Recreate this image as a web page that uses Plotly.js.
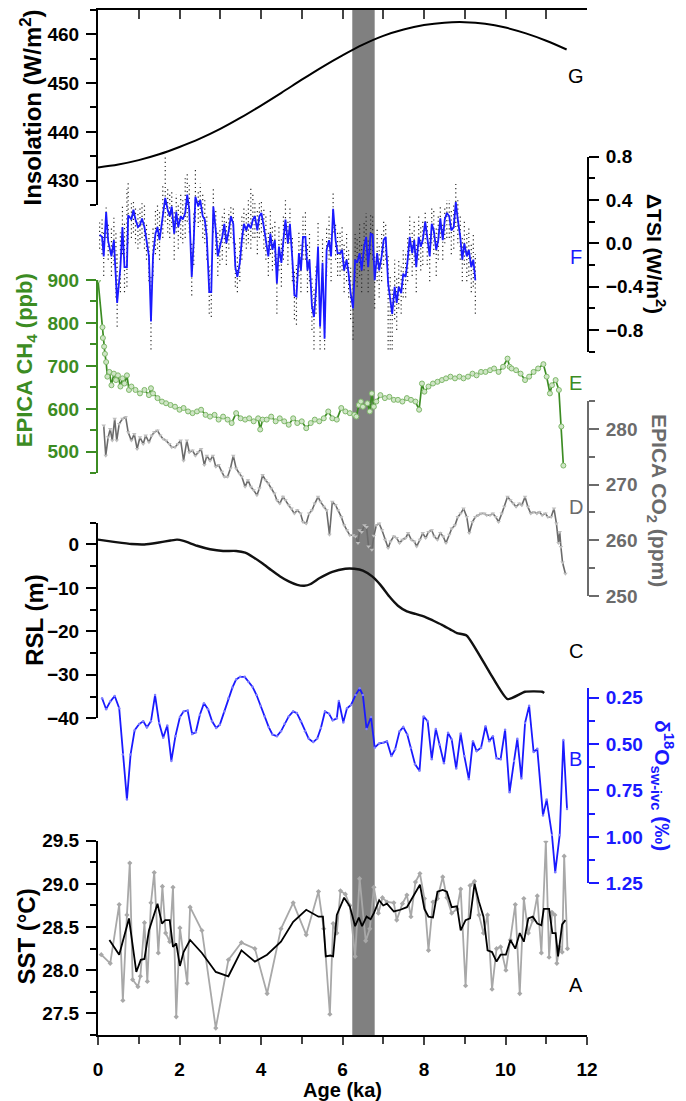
<!DOCTYPE html>
<html><head><meta charset="utf-8">
<script src="https://cdn.plot.ly/plotly-3.0.1.min.js"></script>
<style>html,body{margin:0;padding:0;background:#fff}#chart{width:686px;height:1101px}</style>
</head><body><div id="chart"></div>
<script>
// ---------- G: insolation ----------
const INS_age = [0,0.5,1,1.5,2,2.5,3,3.5,4,4.5,5,5.5,6,6.5,7,7.5,8,8.5,9,9.5,10,10.5,11,11.5];
const INS_val = [432.7,433.3,434.2,435.4,436.9,438.6,440.6,442.9,445.4,448.0,450.7,453.3,455.7,457.9,459.7,461.0,461.9,462.4,462.5,462.2,461.4,460.2,458.7,456.9];

// ---------- F: delta TSI ----------
const TSI_age = [0.04,0.10,0.14,0.20,0.25,0.33,0.39,0.44,0.47,0.55,
0.60,0.65,0.71,0.74,0.82,0.87,0.92,0.98,1.03,1.08,
1.14,1.19,1.25,1.30,1.35,1.41,1.46,1.51,1.59,1.65,
1.71,1.76,1.81,1.87,1.92,1.97,2.03,2.08,2.14,2.19,
2.24,2.30,2.35,2.39,2.46,2.51,2.57,2.62,2.67,2.73,
2.78,2.83,2.89,2.94,2.99,3.05,3.10,3.15,3.21,3.26,
3.32,3.37,3.42,3.48,3.53,3.58,3.64,3.69,3.75,3.80,
3.85,3.91,3.96,4.01,4.07,4.12,4.18,4.23,4.28,4.34,
4.39,4.44,4.50,4.55,4.60,4.66,4.71,4.77,4.82,4.87,
4.93,4.98,5.03,5.09,5.14,5.19,5.25,5.30,5.35,5.40,
5.45,5.51,5.56,5.61,5.67,5.72,5.77,5.83,5.88,5.94,
5.99,6.04,6.10,6.15,6.20,6.26,6.31,6.36,6.42,6.47,
6.53,6.58,6.63,6.69,6.74,6.79,6.85,6.90,6.96,7.01,
7.06,7.12,7.17,7.22,7.28,7.33,7.38,7.44,7.49,7.55,
7.60,7.65,7.71,7.76,7.81,7.87,7.92,7.97,8.03,8.08,
8.14,8.19,8.24,8.30,8.35,8.40,8.46,8.51,8.56,8.62,
8.67,8.73,8.78,8.83,8.89,8.94,8.99,9.05,9.10,9.16,
9.21,9.26];
const TSI_val = [0.08,0.06,-0.12,0.29,0.02,-0.12,0.03,-0.34,-0.55,-0.22,
0.15,-0.22,-0.22,0.26,0.22,0.31,0.22,0.15,0.17,0.23,
0.15,0.03,-0.12,-0.72,-0.12,0.09,0.15,0.03,0.25,0.42,
0.31,0.25,0.34,0.09,0.29,0.15,0.25,0.22,0.28,0.45,
0.31,-0.31,0.03,0.43,0.34,0.40,0.25,0.22,0.06,-0.45,
-0.45,0.34,0.12,-0.12,-0.03,0.06,0.18,0.0,0.12,0.25,
0.18,-0.22,-0.31,-0.18,0.03,0.18,0.12,0.18,0.14,0.22,
0.25,0.12,0.25,0.28,0.15,0.03,-0.12,0.09,-0.06,0.03,
-0.37,-0.03,-0.18,0.03,0.22,0.0,0.18,-0.15,-0.48,-0.49,
-0.09,-0.25,0.06,0.06,-0.25,-0.15,-0.58,-0.68,-0.43,-0.03,
-0.77,-0.18,-0.88,-0.06,0.03,-0.12,0.32,0.03,-0.09,-0.09,
-0.06,-0.25,-0.15,-0.28,-0.46,-0.60,-0.15,-0.18,-0.09,-0.25,
-0.03,0.06,-0.22,0.09,0.08,-0.34,-0.09,-0.25,-0.12,0.03,
0.06,-0.37,-0.52,-0.65,-0.40,-0.55,-0.40,-0.46,-0.28,-0.31,
-0.15,0.06,-0.09,0.03,-0.22,0.06,-0.03,0.03,0.20,0.03,
-0.12,0.18,0.12,-0.06,0.03,0.23,0.03,0.22,0.28,0.25,
0.12,0.15,0.38,0.22,0.06,-0.15,0.0,-0.12,-0.06,-0.22,
-0.15,-0.34];
const TSI_hi = [0.2,0.22,0.1,0.33,0.2,0.15,0.25,0.1,-0.1,0.1,
0.35,0.2,0.5,0.57,0.38,0.4,0.35,0.3,0.35,0.38,
0.35,0.2,0.1,-0.3,0.15,0.3,0.35,0.3,0.55,0.8,
0.5,0.45,0.5,0.3,0.45,0.35,0.45,0.4,0.6,0.65,
0.55,0.0,0.3,0.68,0.5,0.55,0.45,0.4,0.25,-0.2,
-0.2,0.5,0.3,0.1,0.15,0.25,0.32,0.2,0.3,0.34,
0.33,0.0,-0.1,0.05,0.25,0.35,0.3,0.4,0.52,0.45,
0.38,0.3,0.38,0.4,0.33,0.25,0.1,0.3,0.15,0.2,
-0.1,0.15,0.05,0.25,0.4,0.2,0.35,0.05,-0.25,-0.2,
0.1,0.0,0.25,0.3,0.0,0.1,-0.3,-0.4,-0.2,0.2,
-0.5,0.05,-0.55,0.15,0.25,0.1,0.46,0.2,0.1,0.1,
0.15,0.0,0.1,-0.05,-0.2,-0.35,0.1,0.05,0.2,0.0,
0.2,0.28,0.05,0.28,0.25,-0.1,0.15,0.0,0.1,0.2,
0.2,-0.1,-0.3,-0.4,-0.15,-0.3,-0.15,-0.2,-0.05,-0.1,
0.05,0.25,0.1,0.2,0.0,0.25,0.15,0.2,0.31,0.2,
0.1,0.35,0.3,0.15,0.25,0.35,0.2,0.35,0.4,0.4,
0.3,0.35,0.57,0.4,0.25,0.05,0.2,0.1,0.15,0.0,
0.1,-0.1];
const TSI_lo = [-0.05,-0.1,-0.3,0.05,-0.15,-0.3,-0.2,-0.5,-0.77,-0.45,
-0.1,-0.45,-0.4,0.0,0.05,0.1,0.0,-0.05,0.0,0.05,
-0.05,-0.15,-0.35,-0.98,-0.3,-0.1,-0.05,-0.15,0.05,0.2,
0.1,0.05,0.15,-0.15,0.1,-0.05,0.05,0.0,0.05,0.2,
0.1,-0.48,-0.2,0.2,0.15,0.2,0.05,0.0,-0.15,-0.65,
-0.68,0.1,-0.1,-0.3,-0.2,-0.15,0.0,-0.2,-0.05,0.05,
0.0,-0.4,-0.45,-0.35,-0.15,0.0,-0.05,0.0,-0.05,0.05,
0.05,-0.1,0.05,0.1,-0.05,-0.15,-0.3,-0.1,-0.25,-0.2,
-0.65,-0.25,-0.4,-0.15,0.0,-0.2,0.0,-0.35,-0.7,-0.75,
-0.3,-0.45,-0.15,-0.15,-0.45,-0.35,-0.8,-0.98,-0.65,-0.25,
-0.98,-0.4,-0.98,-0.3,-0.15,-0.35,0.1,-0.15,-0.3,-0.3,
-0.25,-0.45,-0.35,-0.5,-0.7,-0.89,-0.35,-0.4,-0.3,-0.45,
-0.25,-0.15,-0.45,-0.1,-0.15,-0.6,-0.35,-0.5,-0.35,-0.2,
-0.15,-0.98,-0.98,-0.98,-0.7,-0.8,-0.6,-0.65,-0.5,-0.5,
-0.35,-0.15,-0.3,-0.2,-0.45,-0.15,-0.25,-0.2,0.0,-0.2,
-0.35,0.0,-0.1,-0.3,-0.15,0.05,-0.15,0.0,0.05,0.05,
-0.1,-0.05,0.15,0.0,-0.15,-0.35,-0.2,-0.35,-0.3,-0.45,
-0.4,-0.65];

// ---------- E: EPICA CH4 ----------
const CH4_age = [0.00,0.11,0.12,0.15,0.17,0.20,0.23,0.28,0.33,0.39,0.44,0.49,0.55,0.60,0.65,0.71,0.76,0.82,0.92,1.03,
1.14,1.25,1.30,1.35,1.46,1.57,1.67,1.78,1.89,2.00,2.10,2.21,2.32,2.43,2.53,2.64,2.75,2.86,2.96,3.07,
3.18,3.28,3.39,3.50,3.61,3.71,3.82,3.93,3.98,4.04,4.14,4.25,4.36,4.46,4.57,4.68,4.79,4.89,5.00,5.11,
5.22,5.32,5.43,5.54,5.65,5.75,5.86,5.97,6.07,6.18,6.29,6.34,6.40,6.45,6.50,6.61,6.67,6.72,6.77,6.83,
6.93,7.04,7.15,7.26,7.36,7.47,7.58,7.68,7.79,7.88,7.95,8.01,8.11,8.22,8.33,8.44,8.54,8.65,8.76,8.87,
8.97,9.08,9.19,9.29,9.40,9.51,9.62,9.72,9.83,9.94,10.05,10.10,10.15,10.26,10.37,10.48,10.58,10.69,10.80,10.93,
11.01,11.09,11.14,11.23,11.31,11.37,11.42];
const CH4_val = [900,790,765,745,728,709,675,686,655,682,667,678,652,671,659,678,644,652,644,636,
644,632,648,636,625,617,613,609,605,598,602,594,590,594,598,586,582,586,575,582,
575,567,590,578,575,578,571,578,552,575,575,582,571,578,571,563,578,567,571,555,
567,575,571,578,594,578,575,602,594,590,586,582,609,617,605,613,594,636,605,617,
632,625,628,621,621,617,625,621,617,598,659,640,652,659,663,667,671,675,671,675,
671,675,682,678,686,686,690,694,686,698,717,698,694,690,682,667,675,686,694,704,
675,636,655,667,644,559,468];

// ---------- D: EPICA CO2 ----------
const CO2_age = [0.14,0.19,0.25,0.30,0.35,0.41,0.46,0.52,0.60,0.68,0.74,0.82,0.89,0.96,1.03,1.11,1.17,1.25,1.32,1.38,
1.46,1.53,1.60,1.67,1.75,1.81,1.89,1.96,2.03,2.10,2.18,2.24,2.32,2.39,2.46,2.53,2.61,2.67,2.75,2.82,
2.89,2.96,3.04,3.10,3.18,3.25,3.32,3.39,3.47,3.53,3.61,3.68,3.75,3.82,3.90,3.96,4.04,4.11,4.18,4.25,
4.33,4.39,4.46,4.54,4.60,4.68,4.75,4.82,4.89,4.97,5.03,5.11,5.18,5.25,5.32,5.40,5.46,5.54,5.61,5.68,
5.75,5.83,5.89,5.97,6.04,6.11,6.18,6.26,6.32,6.38,6.42,6.47,6.54,6.59,6.64,6.72,6.77,6.83,6.90,6.97,
7.04,7.12,7.18,7.26,7.33,7.40,7.47,7.55,7.61,7.69,7.76,7.82,7.90,7.97,8.04,8.11,8.19,8.25,8.33,8.40,
8.47,8.54,8.62,8.68,8.76,8.83,8.90,8.97,9.05,9.11,9.19,9.26,9.33,9.40,9.48,9.54,9.62,9.69,9.76,9.83,
9.91,9.97,10.05,10.12,10.19,10.26,10.34,10.40,10.48,10.55,10.62,10.69,10.77,10.83,10.90,10.98,11.04,11.12,11.19,11.25,
11.30,11.33,11.36,11.40,11.47];
const CO2_val = [280.6,275.2,278.5,280.0,277.9,281.8,277.9,280.9,281.8,282.1,279.4,277.9,279.1,276.4,278.5,277.3,278.8,277.6,278.8,279.4,
279.7,278.8,278.2,277.9,277.3,276.7,276.7,277.3,277.9,274.3,277.9,275.8,276.1,275.2,275.8,276.4,273.5,275.2,274.3,275.2,
273.2,273.5,272.3,271.4,271.4,272.9,275.2,272.9,272.0,271.4,269.6,270.8,269.6,269.0,268.1,269.3,271.7,270.8,270.2,269.3,
268.4,267.2,266.6,267.8,267.2,266.3,265.7,264.8,265.4,264.8,263.3,263.0,264.8,265.4,266.6,267.8,266.9,266.0,265.4,261.0,
266.9,266.3,265.4,264.2,262.7,261.8,260.9,260.9,260.7,259.5,261.8,261.5,262.7,262.4,258.9,258.3,260.8,262.7,263.0,261.8,
260.1,258.6,259.8,260.7,260.4,259.5,260.1,260.4,261.3,260.1,259.8,258.9,260.1,261.3,260.4,261.5,261.8,260.7,260.1,261.3,
260.7,259.5,261.0,262.1,262.7,264.2,264.8,265.7,264.2,261.3,263.3,264.2,264.5,264.8,264.8,264.5,264.5,264.8,264.2,263.3,
264.8,266.0,267.8,267.2,266.6,266.0,266.6,266.3,267.8,266.0,264.8,265.1,264.8,265.1,264.5,264.8,264.2,264.2,265.7,263.0,
259.5,261.5,258.8,256.0,254.0];

// ---------- C: RSL ----------
const RSL_age = [0,0.39,0.82,1.14,1.46,1.78,1.94,2.10,2.43,2.75,3.07,3.39,3.61,3.82,4.04,4.25,4.46,4.68,4.89,5.06,
5.22,5.43,5.75,6.07,6.29,6.50,6.72,6.93,7.15,7.36,7.58,7.79,8.01,8.22,8.44,8.65,8.81,9.05,9.62,10.05,
10.48,10.90,10.95];
const RSL_val = [1.1,0.6,0.1,0.0,0.4,0.9,1.1,0.8,-0.3,-1.1,-1.5,-1.5,-1.9,-3.0,-4.4,-5.9,-7.3,-8.5,-9.3,-9.5,
-9.1,-7.8,-6.3,-5.6,-5.6,-6.0,-7.3,-9.3,-12.0,-14.1,-15.4,-16.0,-16.6,-17.5,-18.5,-19.6,-20.4,-21.0,-29.6,-35.6,
-33.9,-33.9,-34.2];

// ---------- B: d18O sw-ivc ----------
const D18_age = [0.10,0.20,0.30,0.41,0.52,0.61,0.71,0.80,0.90,1.01,1.11,1.20,1.30,1.40,1.50,1.60,1.70,1.80,1.90,2.01,
2.10,2.20,2.31,2.40,2.50,2.60,2.70,2.80,2.90,2.99,3.10,3.20,3.30,3.39,3.49,3.60,3.69,3.79,3.89,3.99,
4.09,4.19,4.28,4.39,4.49,4.58,4.68,4.79,4.88,4.98,5.08,5.17,5.28,5.38,5.47,5.57,5.67,5.76,5.86,5.91,
6.02,6.11,6.21,6.32,6.42,6.50,6.59,6.70,6.79,6.90,7.00,7.09,7.20,7.29,7.40,7.49,7.59,7.68,7.78,7.89,
7.99,8.09,8.19,8.29,8.38,8.49,8.59,8.68,8.79,8.90,8.99,9.10,9.20,9.29,9.40,9.51,9.60,9.69,9.78,9.88,
9.99,10.10,10.21,10.29,10.39,10.48,10.58,10.69,10.78,10.92,11.01,11.14,11.22,11.33,11.42,11.51];
const D18_val = [0.255,0.314,0.273,0.243,0.309,0.557,0.80,0.557,0.427,0.394,0.379,0.411,0.379,0.238,0.388,0.468,0.402,0.592,0.459,0.356,
0.326,0.321,0.447,0.438,0.344,0.282,0.314,0.379,0.415,0.397,0.326,0.255,0.197,0.154,0.140,0.140,0.167,0.193,0.238,0.296,
0.353,0.410,0.450,0.459,0.433,0.392,0.353,0.326,0.335,0.379,0.433,0.472,0.491,0.472,0.415,0.326,0.339,0.374,0.363,0.270,
0.385,0.309,0.291,0.238,0.202,0.238,0.420,0.356,0.521,0.498,0.495,0.486,0.566,0.530,0.433,0.410,0.450,0.521,0.610,0.645,
0.353,0.379,0.583,0.420,0.504,0.605,0.441,0.477,0.633,0.445,0.566,0.690,0.486,0.539,0.521,0.406,0.486,0.459,0.578,0.583,
0.424,0.761,0.592,0.473,0.686,0.388,0.296,0.544,0.527,0.885,0.800,0.990,1.190,0.990,0.480,0.850];

// ---------- A: SST ----------
const SST_age = [0.08,0.30,0.52,0.61,0.71,0.78,0.85,0.98,1.04,1.14,1.21,1.30,1.38,1.48,1.58,1.66,1.76,1.84,1.92,2.01,
2.19,2.26,2.55,2.89,3.20,3.52,3.85,4.15,4.49,4.79,5.11,5.41,5.54,5.69,5.77,5.86,5.95,6.07,6.18,6.31,
6.42,6.57,6.67,6.77,6.88,6.98,7.09,7.26,7.33,7.47,7.58,7.68,7.79,7.90,8.01,8.11,8.22,8.33,8.46,8.56,
8.68,8.81,8.90,9.02,9.13,9.24,9.35,9.46,9.56,9.67,9.78,9.88,10.01,10.12,10.24,10.35,10.45,10.56,10.67,10.78,
10.88,10.99,11.07,11.14,11.21,11.26,11.32,11.39,11.44,11.52];
const SST_val = [28.18,28.08,28.76,27.65,28.64,29.24,27.89,27.81,27.93,28.55,27.87,28.78,29.13,28.20,28.97,28.43,28.33,28.96,27.46,28.49,
27.85,28.73,28.46,27.33,28.12,28.32,28.25,27.73,28.48,28.78,28.41,28.91,28.48,27.49,28.54,28.43,28.92,28.88,28.75,28.16,
29.06,28.34,28.48,28.96,28.66,28.84,28.79,28.78,28.58,28.77,28.87,28.62,29.02,29.12,28.83,28.23,28.79,28.83,29.08,28.84,
28.66,28.71,28.94,27.82,28.98,29.03,28.64,28.43,28.64,27.78,28.25,28.27,28.00,28.35,28.76,27.73,28.83,28.43,28.58,28.86,
28.20,29.49,28.15,28.67,28.64,28.08,28.27,28.21,29.32,28.25];
const SSTs_age = [0.28,0.52,0.76,0.94,1.05,1.14,1.25,1.35,1.46,1.57,1.65,1.76,1.84,1.92,2.01,2.10,2.26,2.55,2.89,3.20,
3.52,3.85,4.15,4.49,4.79,5.11,5.41,5.52,5.59,5.70,5.77,5.86,6.04,6.18,6.31,6.40,6.48,6.59,6.69,6.77,
6.90,7.00,7.09,7.26,7.42,7.58,7.74,7.90,8.01,8.11,8.22,8.33,8.46,8.56,8.68,8.81,8.90,9.02,9.13,9.24,
9.35,9.46,9.56,9.67,9.78,9.88,10.01,10.12,10.24,10.35,10.45,10.56,10.67,10.78,10.88,10.94,11.07,11.15,11.23,11.29,
11.31,11.39,11.47];
const SSTs_val = [28.35,28.18,28.60,27.98,28.12,28.13,28.46,28.62,28.77,28.54,28.58,28.58,28.27,28.31,28.05,28.21,28.35,28.20,27.98,27.93,
28.23,28.10,28.18,28.33,28.56,28.70,28.62,28.62,28.16,28.17,28.16,28.64,28.84,28.74,28.51,28.61,28.51,28.62,28.59,28.66,
28.81,28.75,28.77,28.68,28.70,28.73,28.86,28.99,28.71,28.62,28.61,28.91,28.93,28.91,28.73,28.74,28.46,28.58,28.60,29.00,
28.79,28.62,28.23,28.21,28.10,28.18,28.18,28.35,28.25,28.43,28.33,28.60,28.62,28.54,28.52,28.71,28.71,28.43,28.43,28.16,
28.23,28.53,28.58];

// ---------- band and labels ----------
const BAND = [6.24, 6.79];
const PANEL_LETTERS = ['G','F','E','D','C','B','A'];

const FONT = 'Liberation Sans, Arial, sans-serif';
const BLACK = '#000000', BLUE = '#1a1aff', GREEN = '#3c8c23', GRAY = '#6b6b6b', LGRAY = '#a8a8a8';

// dotted vertical streaks for TSI spread (built from hi/lo arrays)
const dotX = [], dotY = [];
TSI_age.forEach((a, i) => { dotX.push(a, a, null); dotY.push(TSI_lo[i], TSI_hi[i], null); });

const traces = [
  {x: INS_age, y: INS_val, xaxis: 'x2', yaxis: 'y7', mode: 'lines', line: {color: BLACK, width: 2, shape: 'spline'}},
  {x: dotX, y: dotY, xaxis: 'x', yaxis: 'y6', mode: 'lines', line: {color: '#2a2a2a', width: 1.2, dash: '1.2px,3px'}},
  {x: TSI_age, y: TSI_val, xaxis: 'x', yaxis: 'y6', mode: 'lines', line: {color: BLUE, width: 1.8}},
  {x: CH4_age, y: CH4_val, xaxis: 'x', yaxis: 'y5', mode: 'lines+markers', line: {color: GREEN, width: 1.7},
   marker: {symbol: 'circle', size: 5, color: '#cfe5c6', line: {color: '#7fb86a', width: 1}}},
  {x: CO2_age, y: CO2_val, xaxis: 'x', yaxis: 'y4', mode: 'lines+markers', line: {color: GRAY, width: 1.6},
   marker: {symbol: 'triangle-down', size: 4, color: '#bdbdbd'}},
  {x: RSL_age, y: RSL_val, xaxis: 'x', yaxis: 'y3', mode: 'lines', line: {color: '#111111', width: 2.4, shape: 'spline', smoothing: 0.5}},
  // invisible copy so the visible d18O axis (y2) is drawn
  {x: D18_age, y: D18_val, xaxis: 'x', yaxis: 'y2', mode: 'lines', line: {color: 'rgba(0,0,0,0)', width: 0}, hoverinfo: 'skip'},
  {x: D18_age, y: D18_val, xaxis: 'x', yaxis: 'y8', mode: 'lines+markers', line: {color: BLUE, width: 1.8},
   marker: {symbol: 'circle', size: 2.5, color: '#8080ff'}},
  {x: SST_age, y: SST_val, xaxis: 'x', yaxis: 'y', mode: 'lines+markers', line: {color: LGRAY, width: 1.8},
   marker: {symbol: 'diamond', size: 4, color: LGRAY}},
  {x: SSTs_age, y: SSTs_val, xaxis: 'x', yaxis: 'y', mode: 'lines', line: {color: BLACK, width: 1.8}}
];

function yax(domain, range, side, color, dtick, minor, tick0, fmt) {
  return {
    domain: domain, range: range, side: side, anchor: 'x',
    showline: true, linewidth: 2, linecolor: color,
    ticks: 'outside', ticklen: 10, tickwidth: 2, tickcolor: color,
    tick0: tick0, dtick: dtick, tickformat: fmt,
    minor: {dtick: minor, ticks: 'outside', ticklen: 6, tickwidth: 2, tickcolor: color, showgrid: false},
    tickfont: {family: FONT, size: 19, color: color, weight: 'bold'},
    ticklabelstandoff: 3,
    showgrid: false, zeroline: false
  };
}

const layout = {
  width: 686, height: 1101,
  margin: {l: 98, r: 99, t: 10, b: 66},
  paper_bgcolor: '#ffffff', plot_bgcolor: 'rgba(0,0,0,0)',
  showlegend: false,
  font: {family: FONT, color: BLACK},
  xaxis: {
    domain: [0, 1], range: [0, 12], anchor: 'y',
    showline: true, linewidth: 2, linecolor: BLACK,
    ticks: 'outside', ticklen: 8, tickwidth: 2, tick0: 0, dtick: 2,
    minor: {dtick: 1, ticks: 'outside', ticklen: 7, tickwidth: 2, showgrid: false},
    tickfont: {family: FONT, size: 19, color: BLACK, weight: 'bold'},
    ticklabelstandoff: 8,
    showgrid: false, zeroline: false,
    title: {text: '<b>Age (ka)</b>', font: {family: FONT, size: 20, color: BLACK}, standoff: 4}
  },
  xaxis2: {
    overlaying: 'x', anchor: 'y7', side: 'top', range: [0, 12],
    showline: true, linewidth: 2, linecolor: BLACK,
    ticks: 'inside', ticklen: 9, tickwidth: 2, tick0: 0, dtick: 1,
    showticklabels: false, showgrid: false, zeroline: false
  },
  yaxis:  yax([0, 0.1896], [27.25, 29.5], 'left', BLACK, 0.5, 0.25, 27.5, '.1f'),
  yaxis2: yax([0.148, 0.3382], [1.25, 0.2], 'right', BLUE, 0.25, 0.125, 0.25, '.2f'),
  yaxis3: yax([0.309, 0.4998], [-40, 5], 'left', BLACK, 10, 5, 0, 'd'),
  yaxis4: yax([0.4283, 0.6185], [250, 285], 'right', GRAY, 10, 5, 250, 'd'),
  yaxis5: yax([0.548, 0.7366], [450, 900], 'left', GREEN, 100, 50, 500, 'd'),
  yaxis6: yax([0.6666, 0.8569], [-1.0, 0.8], 'right', BLACK, 0.4, 0.2, 0, '.1f'),
  yaxis7: yax([0.8098, 1], [425, 465], 'left', BLACK, 10, 5, 430, 'd'),
  // hidden copy of the d18O scale, taller so the curve is not clipped above the axis (as in the original)
  yaxis8: {domain: [0.148, 0.3567], range: [1.25, 0.1], anchor: 'x', visible: false, showgrid: false, zeroline: false},
  shapes: [{type: 'rect', xref: 'x', yref: 'paper', x0: BAND[0], x1: BAND[1], y0: 0, y1: 1,
            fillcolor: '#808080', line: {width: 0}, layer: 'below'}],
  annotations: []
};

// axis titles (rotated)
const titles = [
  {text: '<b>Insolation (W/m<sup>2</sup>)</b>', x: -0.137, y: 0.905, a: -90, c: BLACK, s: 24},
  {text: '<b>EPICA CH<sub>4</sub> (ppb)</b>', x: -0.147, y: 0.6585, a: -90, c: GREEN, s: 22},
  {text: '<b>RSL (m)</b>', x: -0.129, y: 0.405, a: -90, c: BLACK, s: 24},
  {text: '<b>SST (°C)</b>', x: -0.147, y: 0.0961, a: -90, c: BLACK, s: 24},
  {text: '<b>ΔTSI (W/m<sup>2</sup>)</b>', x: 1.141, y: 0.762, a: 90, c: BLACK, s: 21},
  {text: '<b>EPICA CO<sub>2</sub> (ppm)</b>', x: 1.145, y: 0.521, a: 90, c: GRAY, s: 21},
  {text: '<b>δ<sup>18</sup>O<sub>sw-ivc</sub> (‰)</b>', x: 1.153, y: 0.243, a: 90, c: BLUE, s: 21}
];
titles.forEach(t => layout.annotations.push({
  text: t.text, xref: 'paper', yref: 'paper', x: t.x, y: t.y, textangle: t.a,
  xanchor: 'center', yanchor: 'middle', showarrow: false,
  font: {family: FONT, size: t.s, color: t.c}
}));

// panel letters
const letterY = [0.9356, 0.7593, 0.6364, 0.5154, 0.3749, 0.269, 0.0488];
const letterC = [BLACK, BLUE, GREEN, GRAY, BLACK, BLUE, BLACK];
PANEL_LETTERS.forEach((L, i) => layout.annotations.push({
  text: L, xref: 'x', yref: 'paper', x: 11.72, y: letterY[i], showarrow: false,
  xanchor: 'center', yanchor: 'middle', font: {family: FONT, size: 20, color: letterC[i]}
}));

Plotly.newPlot('chart', traces, layout, {displayModeBar: false, staticPlot: true});
</script></body></html>
